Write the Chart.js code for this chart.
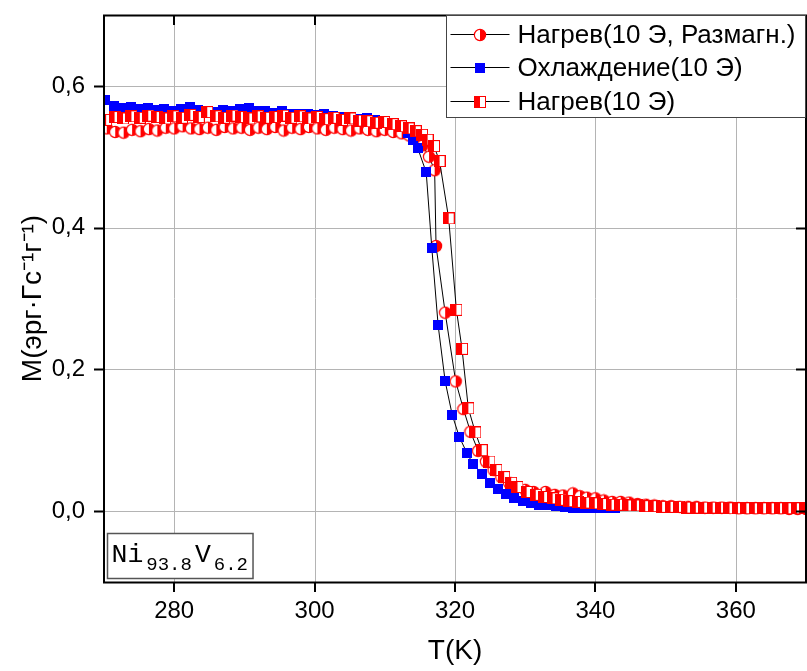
<!DOCTYPE html>
<html lang="ru">
<head>
  <meta charset="UTF-8" />
  <title>Ni93.8V6.2 - M(T)</title>
  <script src="https://cdn.jsdelivr.net/npm/chart.js"></script>
  <style>
    * {
      margin: 0;
      padding: 0;
      box-sizing: border-box;
    }
    body {
      background: #fff;
    }
    .chart-box {
      position: relative;
      width: 807px;
      height: 671px;
    }
  </style>
</head>
<body>

  <div class="chart-box">
    <canvas id="mtChart" width="807" height="671"></canvas>
  </div>

  <script>
    // Нагрев (10 Э, Размагн.) - half-filled circles
    const heatDemagT = [
      270.4, 271.6, 272.8, 274.0, 275.2, 276.4, 277.6, 278.8, 280.0, 281.2,
      282.4, 283.6, 284.8, 286.0, 287.2, 288.4, 289.6, 290.8, 292.0, 293.2,
      294.4, 295.6, 296.8, 298.0, 299.2, 300.4, 301.6, 302.8, 304.0, 305.2,
      306.4, 307.6, 308.8, 310.0, 311.2, 312.4,
      313.5, 314.5, 315.4, 316.3, 317.1, 317.3, 318.6, 320.1, 321.2, 322.2,
      323.3, 324.4, 325.5, 326.6, 327.7, 328.8, 330.0, 331.2, 332.9, 334.2,
      335.4, 336.8, 337.8, 338.8,
      340.0, 341.2, 342.4, 343.6, 344.8, 346.0, 347.2, 348.4, 349.6, 350.8,
      352.0, 353.2, 354.4, 355.6, 356.8, 358.0, 359.2, 360.4, 361.6, 362.8,
      364.0, 365.2, 366.4, 367.6, 368.8, 370.0
    ];
    const heatDemagM = [
      0.540, 0.535, 0.534, 0.538, 0.536, 0.539, 0.537, 0.541, 0.540, 0.543,
      0.540, 0.539, 0.541, 0.538, 0.542, 0.540, 0.541, 0.538, 0.541, 0.539,
      0.542, 0.537, 0.541, 0.539, 0.542, 0.540, 0.538, 0.541, 0.539, 0.537,
      0.540, 0.538, 0.536, 0.538, 0.535, 0.533,
      0.530, 0.525, 0.516, 0.500, 0.481, 0.374, 0.280, 0.183, 0.144, 0.112,
      0.085, 0.070, 0.058, 0.048, 0.040, 0.034, 0.030, 0.027, 0.027, 0.023,
      0.022, 0.025, 0.021, 0.019,
      0.018, 0.015, 0.013, 0.013, 0.012, 0.010, 0.009, 0.008, 0.007, 0.007,
      0.006, 0.006, 0.006, 0.005, 0.005, 0.005, 0.005, 0.004, 0.004, 0.004,
      0.004, 0.004, 0.004, 0.003, 0.003, 0.003
    ];

    // Охлаждение (10 Э) - blue squares
    const coolT = [
      270.2, 271.4, 272.6, 273.8, 275.0, 276.2, 277.4, 278.6, 279.8, 281.0,
      282.2, 283.4, 284.6, 285.8, 287.0, 288.2, 289.4, 290.6, 291.8, 293.0,
      294.2, 295.4, 296.6, 297.8, 299.0, 300.2, 301.4, 302.6, 303.8, 305.0,
      306.2, 307.4, 308.6, 309.8, 311.0, 312.2,
      313.3, 314.0, 314.7, 315.9, 316.7, 317.6, 318.6, 319.6, 320.6, 321.7,
      322.6, 323.8, 325.0, 326.1, 327.3, 328.4, 329.7, 330.8,
      332.0, 333.2, 334.4, 335.6, 336.8, 338.0, 339.2, 340.4, 341.6, 342.8
    ];
    const coolM = [
      0.580, 0.572, 0.569, 0.570, 0.567, 0.569, 0.566, 0.568, 0.565, 0.567,
      0.570, 0.566, 0.565, 0.563, 0.566, 0.565, 0.567, 0.569, 0.565, 0.564,
      0.562, 0.564, 0.561, 0.560, 0.561, 0.559, 0.560, 0.557, 0.556, 0.556,
      0.553, 0.555, 0.552, 0.550, 0.547, 0.543,
      0.533, 0.523, 0.512, 0.478, 0.371, 0.262, 0.183, 0.136, 0.105, 0.082,
      0.066, 0.052, 0.040, 0.031, 0.024, 0.018, 0.014, 0.011,
      0.009, 0.008, 0.007, 0.006, 0.005, 0.005, 0.004, 0.004, 0.004, 0.004
    ];

    // Нагрев (10 Э) - half-filled squares
    const heatT = [
      270.3, 271.5, 272.7, 273.9, 275.1, 276.3, 277.5, 278.7, 279.9, 281.1,
      282.3, 283.5, 284.7, 285.9, 287.1, 288.3, 289.5, 290.7, 291.9, 293.1,
      294.3, 295.5, 296.7, 297.9, 299.1, 300.3, 301.5, 302.7, 303.9, 305.1,
      306.3, 307.5, 308.7, 309.9, 311.1, 312.3,
      313.4, 314.4, 315.3, 316.1, 317.0, 317.8, 319.1, 320.2, 321.0, 321.9,
      322.9, 323.8, 324.9, 325.9, 327.0, 328.0, 328.9, 330.2, 331.5, 332.7,
      333.9, 335.1, 336.3, 337.5, 338.7,
      339.9, 341.1, 342.3, 343.5, 344.7, 345.9, 347.1, 348.3, 349.5, 350.7,
      351.9, 353.1, 354.3, 355.5, 356.7, 357.9, 359.1, 360.3, 361.5, 362.7,
      363.9, 365.1, 366.3, 367.5, 368.7, 369.9
    ];
    const heatM = [
      0.552, 0.556, 0.554, 0.557, 0.555, 0.558, 0.556, 0.554, 0.557, 0.555,
      0.559, 0.556, 0.563, 0.557, 0.555, 0.558, 0.556, 0.554, 0.557, 0.555,
      0.556, 0.558, 0.555, 0.557, 0.554, 0.556, 0.553, 0.555, 0.552, 0.554,
      0.551, 0.550, 0.548, 0.549, 0.546, 0.543,
      0.540, 0.536, 0.531, 0.524, 0.515, 0.494, 0.413, 0.284, 0.229, 0.145,
      0.111, 0.086, 0.070, 0.058, 0.048, 0.040, 0.034, 0.027, 0.023, 0.020,
      0.018, 0.016, 0.014, 0.013, 0.012,
      0.011, 0.010, 0.009, 0.009, 0.008, 0.008, 0.007, 0.007, 0.006, 0.006,
      0.006, 0.005, 0.005, 0.005, 0.005, 0.005, 0.004, 0.004, 0.004, 0.004,
      0.004, 0.004, 0.004, 0.004, 0.004, 0.004
    ];

    const seriesLabels = ["Нагрев(10 Э, Размагн.)", "Охлаждение(10 Э)", "Нагрев(10 Э)"];
    const xTickLabels = [280, 300, 320, 340, 360];
    const yTickLabels = [0.0, 0.2, 0.4, 0.6];

    const RED = "#ff0000";
    const BLUE = "#0000ff";

    function makeMarker(kind) {
      const c = document.createElement("canvas");
      const g = c.getContext("2d");
      if (kind === "halfCircle") {
        c.width = 14; c.height = 14;
        g.beginPath(); g.arc(7, 7, 5.6, 0, Math.PI * 2);
        g.fillStyle = "#fff"; g.fill();
        g.beginPath(); g.arc(7, 7, 5.6, -Math.PI / 2, Math.PI / 2); g.closePath();
        g.fillStyle = RED; g.fill();
        g.beginPath(); g.arc(7, 7, 5.6, 0, Math.PI * 2);
        g.strokeStyle = RED; g.lineWidth = 1.2; g.stroke();
      } else if (kind === "square") {
        c.width = 10; c.height = 10;
        g.fillStyle = BLUE; g.fillRect(0, 0, 10, 10);
      } else {
        c.width = 12; c.height = 12;
        g.fillStyle = "#fff"; g.fillRect(0, 0, 12, 12);
        g.fillStyle = RED; g.fillRect(0, 0, 6, 12);
        g.strokeStyle = RED; g.lineWidth = 1; g.strokeRect(0.5, 0.5, 11, 11);
      }
      return c;
    }

    const markers = [makeMarker("halfCircle"), makeMarker("square"), makeMarker("halfSquare")];

    function toPoints(ts, ms) {
      return ts.map((t, i) => ({ x: t, y: ms[i] }));
    }

    const isMajorX = v => Math.round(v) % 20 === 0;
    const isMajorY = v => Math.round(v * 10) % 2 === 0;

    function fixBox(size) {
      return s => {
        if (s.isHorizontal()) s.height = size; else s.width = size;
        s.paddingTop = 0; s.paddingBottom = 0; s.paddingLeft = 0; s.paddingRight = 0;
      };
    }

    // grid, frame, ticks, legend and the composition label
    const framePlugin = {
      id: "frame",
      beforeDatasetsDraw(chart) {
        const { ctx, chartArea: a, scales: { x, y } } = chart;
        ctx.save();
        ctx.lineWidth = 1;
        x.ticks.forEach(t => {
          if (t.value <= x.min || t.value >= x.max) return;
          const px = Math.round(x.getPixelForValue(t.value)) + 0.5;
          ctx.strokeStyle = isMajorX(t.value) ? "#b4b4b4" : "#d4d4d4";
          ctx.setLineDash(isMajorX(t.value) ? [] : [3, 3]);
          ctx.beginPath(); ctx.moveTo(px, a.top); ctx.lineTo(px, a.bottom); ctx.stroke();
        });
        y.ticks.forEach(t => {
          if (t.value <= y.min + 1e-9 || t.value >= y.max - 1e-9) return;
          const py = Math.round(y.getPixelForValue(t.value)) + 0.5;
          ctx.strokeStyle = isMajorY(t.value) ? "#b4b4b4" : "#d4d4d4";
          ctx.setLineDash(isMajorY(t.value) ? [] : [3, 3]);
          ctx.beginPath(); ctx.moveTo(a.left, py); ctx.lineTo(a.right, py); ctx.stroke();
        });
        ctx.restore();
      },
      afterDatasetsDraw(chart) {
        const { ctx, chartArea: a, scales: { x, y } } = chart;
        ctx.save();
        ctx.strokeStyle = "#000";
        ctx.lineWidth = 2;
        ctx.strokeRect(a.left, a.top + 0.5, a.right - a.left, a.bottom - a.top);
        ctx.beginPath();
        x.ticks.forEach(t => {
          if (t.value <= x.min || t.value >= x.max) return;
          const px = Math.round(x.getPixelForValue(t.value));
          const len = isMajorX(t.value) ? 10 : 6;
          ctx.moveTo(px, a.bottom); ctx.lineTo(px, a.bottom + len);
          ctx.moveTo(px, a.top); ctx.lineTo(px, a.top + len);
        });
        y.ticks.forEach(t => {
          if (t.value <= y.min + 1e-9 || t.value >= y.max - 1e-9) return;
          const py = Math.round(y.getPixelForValue(t.value)) + 0.5;
          const len = isMajorY(t.value) ? 10 : 6;
          ctx.moveTo(a.left, py); ctx.lineTo(a.left - len, py);
          ctx.moveTo(a.right, py); ctx.lineTo(a.right - len, py);
        });
        ctx.stroke();
        ctx.restore();
      },
      afterDraw(chart) {
        const { ctx, chartArea: a } = chart;
        ctx.save();

        // legend box, top right
        const bx = a.right - 359.5, by = a.top + 0.5, bw = 359, bh = 102;
        ctx.fillStyle = "#fff";
        ctx.fillRect(bx, by, bw, bh);
        ctx.strokeStyle = "#444";
        ctx.lineWidth = 1;
        ctx.strokeRect(bx, by, bw, bh);
        ctx.font = "26px 'Liberation Sans', Arial, sans-serif";
        ctx.textBaseline = "middle";
        ctx.fillStyle = "#000";
        chart.data.datasets.forEach((ds, i) => {
          const ry = Math.round(by + 18 + i * 33.5) + 0.5;
          ctx.beginPath();
          ctx.moveTo(bx + 4, ry); ctx.lineTo(bx + 63, ry);
          ctx.strokeStyle = "#000"; ctx.stroke();
          const m = markers[i];
          ctx.drawImage(m, Math.round(bx + 33 - m.width / 2), Math.round(ry - m.height / 2));
          ctx.fillText(ds.label, bx + 71, ry + 1);
        });

        // composition label, bottom left
        const big = "26.5px 'Liberation Mono', 'DejaVu Sans Mono', monospace";
        const small = "19px 'Liberation Mono', 'DejaVu Sans Mono', monospace";
        const parts = [["Ni", big, 0], ["93.8", small, 8], ["V", big, 0], ["6.2", small, 8]];
        const lx = a.left + 3.5, ly = a.bottom - 48.5;
        let cx = lx + 4;
        const placed = [];
        parts.forEach(([txt, font, dy], i) => {
          ctx.font = font;
          if (i > 0) cx += 3;
          placed.push([txt, font, dy, cx]);
          cx += ctx.measureText(txt).width;
        });
        const lw = cx + 5 - lx;
        ctx.fillStyle = "#fff";
        ctx.fillRect(lx, ly, lw, 45);
        ctx.strokeStyle = "#555";
        ctx.lineWidth = 1.5;
        ctx.strokeRect(lx, ly, lw, 45);
        ctx.fillStyle = "#000";
        ctx.textBaseline = "alphabetic";
        placed.forEach(([txt, font, dy, px]) => {
          ctx.font = font;
          ctx.fillText(txt, px, ly + 28 + dy);
        });
        ctx.restore();
      }
    };

    const ctxMT = document.getElementById("mtChart").getContext("2d");
    new Chart(ctxMT, {
      type: "scatter",
      data: {
        datasets: [
          {
            label: seriesLabels[0],
            data: toPoints(heatDemagT, heatDemagM),
            pointStyle: markers[0],
            showLine: true,
            borderColor: "#000",
            borderWidth: 1,
            order: 3
          },
          {
            label: seriesLabels[1],
            data: toPoints(coolT, coolM),
            pointStyle: markers[1],
            showLine: true,
            borderColor: "#000",
            borderWidth: 1,
            order: 2
          },
          {
            label: seriesLabels[2],
            data: toPoints(heatT, heatM),
            pointStyle: markers[2],
            showLine: true,
            borderColor: "#000",
            borderWidth: 1,
            order: 1
          }
        ]
      },
      options: {
        responsive: false,
        animation: false,
        events: [],
        layout: { autoPadding: false, padding: { top: 15, right: 1, left: 0, bottom: 0 } },
        plugins: {
          legend: { display: false },
          tooltip: { enabled: false }
        },
        scales: {
          x: {
            type: "linear",
            min: 270,
            max: 370,
            afterFit: fixBox(89),
            grid: { display: false, drawTicks: false },
            border: { display: false },
            ticks: {
              stepSize: 10,
              padding: 15,
              color: "#000",
              font: { family: "'Liberation Sans', Arial, sans-serif", size: 24 },
              maxRotation: 0,
              autoSkip: false,
              callback: v => xTickLabels.includes(Math.round(v)) ? String(Math.round(v)) : null
            },
            title: {
              display: true,
              text: "T(K)",
              color: "#000",
              font: { family: "'Liberation Sans', Arial, sans-serif", size: 28 },
              padding: { top: 0, bottom: 3 }
            }
          },
          y: {
            min: -0.1,
            max: 0.7,
            afterFit: fixBox(104),
            grid: { display: false, drawTicks: false },
            border: { display: false },
            ticks: {
              stepSize: 0.1,
              padding: 19,
              color: "#000",
              font: { family: "'Liberation Sans', Arial, sans-serif", size: 24 },
              autoSkip: false,
              callback: v => {
                const r = Math.round(v * 10) / 10;
                return yTickLabels.includes(r) ? r.toFixed(1).replace(".", ",") : null;
              }
            },
            title: {
              display: true,
              text: "M(эрг·Гс⁻¹г⁻¹)",
              color: "#000",
              font: { family: "'Liberation Sans', Arial, sans-serif", size: 28 },
              padding: { top: 16, bottom: 0 }
            }
          }
        }
      },
      plugins: [framePlugin]
    });
  </script>
</body>
</html>
